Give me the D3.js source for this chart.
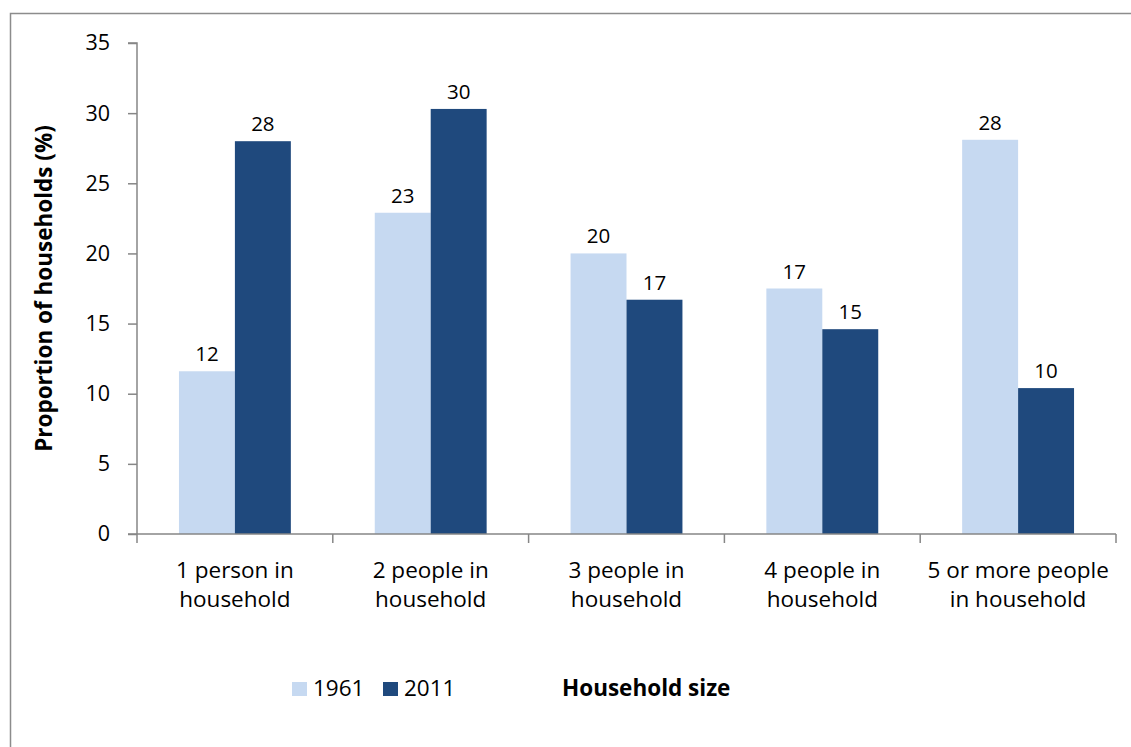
<!DOCTYPE html>
<html>
<head>
<meta charset="utf-8">
<script src="https://cdn.jsdelivr.net/npm/d3@7"></script>
<style>
  html, body { margin: 0; padding: 0; background: #fff; }
  svg { display: block; }
  text { font-family: "Open Sans", "Noto Sans", sans-serif; fill: #000; }
</style>
</head>
<body>
<svg id="chart" width="1131" height="747"></svg>
<script>
const categories = [["1 person in", "household"], ["2 people in", "household"], ["3 people in", "household"], ["4 people in", "household"], ["5 or more people", "in household"]];
const seriesNames = ["1961", "2011"];
const values1961 = [11.6, 22.9, 20.0, 17.5, 28.1];
const values2011 = [28.0, 30.3, 16.7, 14.6, 10.4];
const labels1961 = ["12", "23", "20", "17", "28"];
const labels2011 = ["28", "30", "17", "15", "10"];
const yTicks = [0, 5, 10, 15, 20, 25, 30, 35];
const colors = ["#C6D9F1", "#1F497D"];

(function () {
const svg = d3.select("#chart");
const mLeft = 137, mRight = 1116, mTop = 43, mBottom = 534;
const axisColor = "#868686";

// outer border
svg.append("rect").attr("x", 10.5).attr("y", 13.5).attr("width", 1140).attr("height", 760)
  .attr("fill", "none").attr("stroke", "#8c8c8c").attr("stroke-width", 1.5);

const x0 = d3.scaleBand().domain(d3.range(categories.length)).range([mLeft, mRight]).paddingInner(0).paddingOuter(0);
const x1 = d3.scaleBand().domain(seriesNames).range([0, x0.bandwidth()]).paddingInner(0).paddingOuter(0.75);
const y = d3.scaleLinear().domain([0, 35]).range([mBottom, mTop]);

// y axis
const yAxis = d3.axisLeft(y).tickValues(yTicks).tickSize(9).tickPadding(18);
const gy = svg.append("g").attr("transform", `translate(${mLeft},0)`).call(yAxis);
gy.select(".domain").attr("stroke", axisColor).attr("stroke-width", 1.5).attr("d", `M-9,${mTop}H0V${mBottom}`);
gy.selectAll(".tick line").attr("stroke", axisColor).attr("stroke-width", 1.5);
gy.selectAll(".tick text").style("font-family", "Open Sans").style("font-size", "21.5px").attr("fill", "#000");

const series = [values1961, values2011];
const labels = [labels1961, labels2011];

// bars
seriesNames.forEach((s, si) => {
  svg.append("g").selectAll("rect").data(series[si]).join("rect")
    .attr("x", (d, i) => x0(i) + x1(s))
    .attr("y", d => y(d))
    .attr("width", x1.bandwidth())
    .attr("height", d => y(0) - y(d))
    .attr("fill", colors[si]);
  svg.append("g").selectAll("text").data(series[si]).join("text")
    .attr("x", (d, i) => x0(i) + x1(s) + x1.bandwidth() / 2)
    .attr("y", d => y(d) - 10)
    .attr("text-anchor", "middle")
    .style("font-size", "20.5px")
    .text((d, i) => labels[si][i]);
});

// x axis
const xAxis = d3.axisBottom(x0).tickSize(0).tickFormat("");
const gx = svg.append("g").attr("transform", `translate(0,${mBottom})`).call(xAxis);
gx.select(".domain").attr("stroke", axisColor).attr("stroke-width", 1.5).attr("d", `M${mLeft - 9},0H${mRight}`);
const boundaries = d3.range(categories.length + 1).map(i => i === categories.length ? mRight : x0(i));
gx.append("g").selectAll("line").data(boundaries).join("line")
  .attr("x1", d => d).attr("x2", d => d).attr("y1", 0).attr("y2", 9)
  .attr("stroke", axisColor).attr("stroke-width", 1.5);
categories.forEach((c, i) => {
  const t = svg.append("text").attr("text-anchor", "middle").style("font-size", "22.5px");
  c.forEach((line, li) => {
    t.append("tspan").attr("x", x0(i) + x0.bandwidth() / 2).attr("y", mBottom + 44 + li * 29).text(line);
  });
});

// y axis title
svg.append("text")
  .attr("transform", `translate(52,${(mTop + mBottom) / 2}) rotate(-90)`)
  .attr("text-anchor", "middle")
  .style("font-size", "22.5px").style("font-weight", "bold")
  .text("Proportion of households (%)");

// x axis title
svg.append("text").attr("x", 562).attr("y", 696)
  .style("font-size", "22.5px").style("font-weight", "bold")
  .text("Household size");

// legend
const legendX = [292, 383];
seriesNames.forEach((s, si) => {
  svg.append("rect").attr("x", legendX[si]).attr("y", 682).attr("width", 15).attr("height", 14).attr("fill", colors[si]);
  svg.append("text").attr("x", legendX[si] + 21).attr("y", 696).style("font-size", "22.5px").text(s);
});
})();
</script>
</body>
</html>
